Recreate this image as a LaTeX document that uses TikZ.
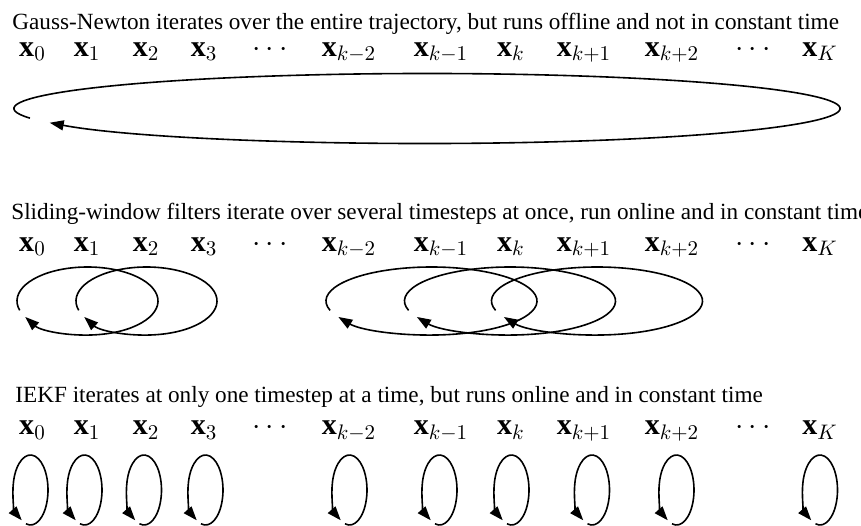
\documentclass[tikz,border=0pt]{standalone}
\usepackage{fix-cm}
\usepackage{fontspec}
\setmainfont{Liberation Serif}
\usetikzlibrary{arrows.meta}

\tikzset{
  iterloop/.style={line width=0.8pt, -{Triangle[length=7pt,width=5pt]}},
  state/.style={inner sep=0pt, anchor=base, font=\fontsize{15}{18}\selectfont},
  caption/.style={inner sep=0pt, anchor=base west, font=\fontsize{11.6}{14}\selectfont},
}

\begin{document}
\begin{tikzpicture}[x=0.5pt, y=0.5pt]
  \useasboundingbox (0,0) rectangle (861,525);

  % captions of the three schemes
  \node (gn) [caption] at (12,495) {Gauss-Newton iterates over the entire trajectory, but runs offline and not in constant time};
  \node (swf) [caption] at (11,305) {Sliding-window filters iterate over several timesteps at once, run online and in constant time};
  \node (iekf) [caption] at (15,123) {IEKF iterates at only one timestep at a time, but runs online and in constant time};

  % state labels, same columns in every row
  \foreach \r/\y in {g/468.5, s/273.5, i/90.5} {
    \foreach \n/\x/\lbl in {0/32.5/\mathbf{x}_0, 1/87/\mathbf{x}_1, 2/146/\mathbf{x}_2, 3/204/\mathbf{x}_3,
        d1/270/\cdots, km2/349/\mathbf{x}_{k-2}, km1/441/\mathbf{x}_{k-1}, k/511/\mathbf{x}_k,
        kp1/584/\mathbf{x}_{k+1}, kp2/672/\mathbf{x}_{k+2}, d2/753/\cdots, K/820/\mathbf{x}_K}
      \node (\r\n) [state] at (\x,\y) {$\lbl$};
  }

  % Gauss-Newton: one loop over everything
  \draw[iterloop] (427,416.5) ++(196:413 and 35) arc[start angle=196, end angle=-156, x radius=413, y radius=35];

  % sliding window
  \foreach \cx/\rx in {87.5/70.5, 146.5/70.5, 431.5/105.5, 510/105.5, 597/105.5}
    \draw[iterloop] (\cx,224) ++(196:{\rx} and 34) arc[start angle=196, end angle=-152, x radius=\rx, y radius=34];

  % IEKF: one loop per timestep
  \foreach \cx in {30.5, 84.5, 144, 205.5, 349.5, 439.5, 511.5, 592, 676.5, 820}
    \draw[iterloop] (\cx,35) ++(255:17.5 and 35) arc[start angle=255, end angle=600, x radius=17.5, y radius=35];
\end{tikzpicture}
\end{document}
